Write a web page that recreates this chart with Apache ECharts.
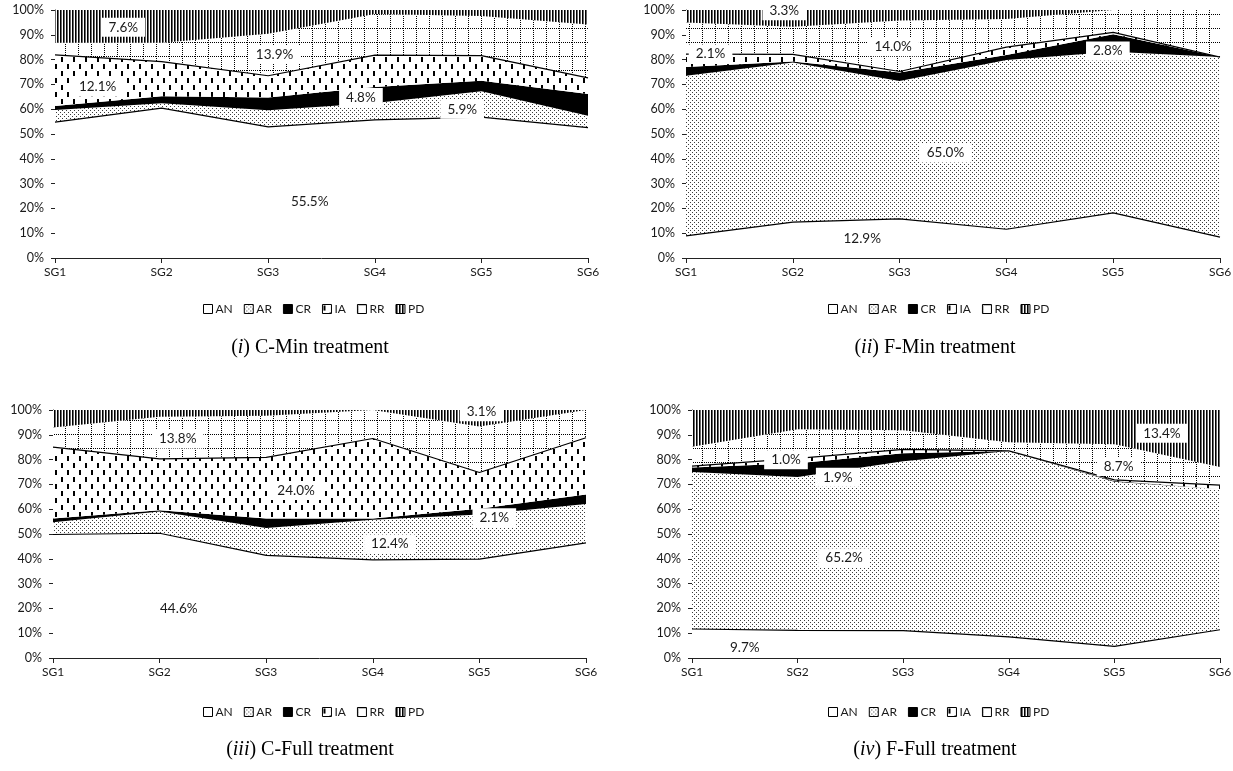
<!DOCTYPE html>
<html>
<head>
<meta charset="utf-8">
<script src="https://cdn.jsdelivr.net/npm/echarts@6/dist/echarts.min.js"></script>
<style>
  html, body { margin: 0; padding: 0; background: #ffffff; }
  #chart { width: 1233px; height: 771px; }
</style>
</head>
<body>
<div id="chart"></div>
<script>
// Sampling groups and fraction names
const groups = ['SG1', 'SG2', 'SG3', 'SG4', 'SG5', 'SG6'];
const fractionNames = ['AN', 'AR', 'CR', 'IA', 'RR', 'PD'];

// (i) C-Min treatment, % of total per group
const cMinAN = [54.8, 60.4, 52.9, 55.7, 56.8, 52.6];
const cMinAR = [4.9, 2.0, 6.7, 6.8, 10.4, 4.8];
const cMinCR = [1.6, 2.8, 5.1, 6.5, 4.3, 8.7];
const cMinIA = [20.6, 14.0, 8.8, 12.8, 10.1, 6.5];
const cMinRR = [4.9, 7.6, 16.9, 16.6, 16.0, 21.6];
const cMinPD = [13.2, 13.2, 9.6, 1.6, 2.4, 5.8];

// (ii) F-Min treatment
const fMinAN = [8.9, 14.5, 15.8, 11.6, 18.2, 8.4];
const fMinAR = [64.6, 64.3, 55.6, 68.2, 65.0, 72.2];
const fMinCR = [3.5, 0.4, 3.4, 2.1, 7.0, 0.4];
const fMinIA = [5.2, 2.9, 0.4, 3.1, 0.8, 0.0];
const fMinRR = [12.8, 11.1, 20.6, 11.4, 9.0, 19.0];
const fMinPD = [5.0, 6.8, 4.2, 3.6, 0.0, 0.0];

// (iii) C-Full treatment
const cFullAN = [49.8, 50.3, 41.4, 39.6, 39.9, 46.4];
const cFullAR = [4.9, 8.8, 11.0, 16.1, 18.0, 15.7];
const cFullCR = [1.6, 0.5, 3.9, 0.5, 2.3, 3.8];
const cFullIA = [28.7, 20.7, 24.6, 32.3, 14.6, 22.9];
const cFullRR = [7.9, 17.0, 16.8, 11.5, 18.5, 11.2];
const cFullPD = [7.1, 2.7, 2.3, 0.0, 6.7, 0.0];

// (iv) F-Full treatment
const fFullAN = [11.7, 11.1, 11.0, 8.5, 4.7, 11.4];
const fFullAR = [63.3, 61.9, 68.3, 75.0, 66.4, 56.4];
const fFullCR = [1.8, 5.5, 3.3, 0.0, 0.3, 0.3];
const fFullIA = [0.6, 2.0, 1.5, 0.0, 0.4, 1.6];
const fFullRR = [7.8, 11.7, 7.7, 3.5, 14.4, 7.3];
const fFullPD = [14.8, 7.8, 8.2, 13.0, 13.8, 23.0];

// Panel captions: [numeral, text]
const captions = [
  ['i', 'C-Min treatment'],
  ['ii', 'F-Min treatment'],
  ['iii', 'C-Full treatment'],
  ['iv', 'F-Full treatment']
];

const panelData = [
  { AN: cMinAN, AR: cMinAR, CR: cMinCR, IA: cMinIA, RR: cMinRR, PD: cMinPD },
  { AN: fMinAN, AR: fMinAR, CR: fMinCR, IA: fMinIA, RR: fMinRR, PD: fMinPD },
  { AN: cFullAN, AR: cFullAR, CR: cFullCR, IA: cFullIA, RR: cFullRR, PD: cFullPD },
  { AN: fFullAN, AR: fFullAR, CR: fFullCR, IA: fFullIA, RR: fFullRR, PD: fFullPD }
];

// Layout of each panel (plot rectangle, legend, caption) and where the
// mean-share callouts sit, in (group index, percent) units.
const panelLayout = [
  { grid: { left: 55, top: 10, width: 533, height: 248 }, legendLeft: 203, legendTop: 303, capX: 310, capY: 348,
    callouts: { PD: [0.64, 93.0], RR: [2.06, 82.1], IA: [0.40, 68.9], CR: [2.87, 64.7], AR: [3.82, 60.0], AN: [2.39, 22.6] } },
  { grid: { left: 686, top: 10, width: 534, height: 248 }, legendLeft: 828, legendTop: 303, capX: 935, capY: 348,
    callouts: { PD: [0.92, 99.7], IA: [0.23, 82.3], RR: [1.94, 85.2], CR: [3.95, 83.5], AR: [2.43, 42.3], AN: [1.65, 7.7] } },
  { grid: { left: 53, top: 410, width: 533, height: 248 }, legendLeft: 203, legendTop: 706, capX: 310, capY: 750,
    callouts: { PD: [4.02, 99.3], RR: [1.17, 88.3], IA: [2.28, 67.5], CR: [4.14, 56.6], AR: [3.16, 46.0], AN: [1.18, 19.9] } },
  { grid: { left: 692, top: 410, width: 528, height: 248 }, legendLeft: 828, legendTop: 706, capX: 935, capY: 750,
    callouts: { IA: [0.89, 79.9], CR: [1.38, 72.9], RR: [4.04, 77.2], PD: [4.45, 90.6], AR: [1.44, 40.3], AN: [0.50, 4.3] } }
];

const FONT = 'Lato, "Noto Sans", sans-serif';
const SERIF = '"Liberation Serif", "DejaVu Serif", serif';

// Monochrome fill patterns for the fractions
function tile(w, h, paint) {
  const c = document.createElement('canvas');
  c.width = w; c.height = h;
  const g = c.getContext('2d');
  g.fillStyle = '#ffffff';
  g.fillRect(0, 0, w, h);
  g.fillStyle = '#000000';
  paint(g, w, h);
  return { image: c, repeat: 'repeat' };
}
const fills = {
  AN: '#ffffff',
  AR: tile(4, 4, g => { g.fillStyle = '#3c3c3c'; g.fillRect(0, 0, 1, 1); g.fillRect(2, 2, 1, 1); }),
  CR: '#000000',
  IA: tile(12, 14, g => { g.fillRect(1, 1, 2, 5); g.fillRect(7, 8, 2, 5); }),
  RR: tile(13, 14, (g, w, h) => {
    g.fillStyle = '#000000';
    for (let x = 0; x < w; x += 2) g.fillRect(x, 0, 1, 1);
    for (let y = 0; y < h; y += 2) g.fillRect(0, y, 1, 1);
  }),
  PD: tile(3, 1, g => { g.fillRect(0, 0, 1, 1); g.fillStyle = '#6a6a6a'; g.fillRect(1, 0, 1, 1); })
};
const outlined = { AN: true, IA: true };

function mean(arr) { return arr.reduce((s, v) => s + v, 0) / arr.length; }

const option = {
  backgroundColor: '#ffffff',
  animation: false,
  grid: [], xAxis: [], yAxis: [], series: [], legend: [], graphic: []
};

panelLayout.forEach((lay, p) => {
  const data = panelData[p];
  option.grid.push(Object.assign({ containLabel: false, outerBoundsMode: 'none' }, lay.grid));

  // category axis for the areas
  option.xAxis.push({
    type: 'category', gridIndex: p, data: groups, boundaryGap: false,
    axisLine: { lineStyle: { color: '#222', width: 1 } },
    axisTick: { show: true, alignWithLabel: true, length: 5, lineStyle: { color: '#222' } },
    axisLabel: { color: '#1a1a1a', fontFamily: FONT, fontSize: 12, margin: 8 },
    splitLine: { show: false }
  });
  // hidden linear axis spanning the same width, used to place callouts
  option.xAxis.push({ type: 'value', gridIndex: p, min: 0, max: groups.length - 1, show: false });

  option.yAxis.push({
    type: 'value', gridIndex: p, min: 0, max: 100, interval: 10,
    axisLine: { show: true, lineStyle: { color: '#222', width: 1 } },
    axisTick: { show: true, length: 4, lineStyle: { color: '#222' } },
    axisLabel: { color: '#1a1a1a', fontFamily: FONT, fontSize: 12.5, margin: 11, formatter: '{value}%' },
    splitLine: { show: false }
  });

  fractionNames.forEach(name => {
    option.series.push({
      name, type: 'line', xAxisIndex: 2 * p, yAxisIndex: p, stack: 'share' + p,
      data: data[name], symbol: 'none', smooth: false,
      z: outlined[name] ? 4 : 2,
      lineStyle: outlined[name] ? { color: '#000', width: 1.2 } : { width: 0 },
      itemStyle: { color: name === 'CR' ? '#000' : '#ffffff' },
      areaStyle: { color: fills[name], opacity: 1 },
      emphasis: { disabled: true },
      silent: true
    });
  });

  // mean share callouts
  const calloutData = Object.keys(lay.callouts).map(name => ({
    value: lay.callouts[name],
    label: { formatter: (Math.round(mean(data[name]) * 10) / 10).toFixed(1) + '%' }
  }));
  option.series.push({
    type: 'scatter', xAxisIndex: 2 * p + 1, yAxisIndex: p, symbolSize: 0, z: 10, silent: true,
    itemStyle: { opacity: 1 },
    emphasis: { disabled: true },
    data: calloutData,
    label: {
      show: true, position: 'inside', color: '#1a1a1a', fontFamily: FONT, fontSize: 13.5,
      backgroundColor: '#ffffff', padding: [3, 7, 2, 7], opacity: 1
    }
  });

  option.legend.push({
    left: lay.legendLeft, top: lay.legendTop, orient: 'horizontal', padding: 0,
    icon: 'rect', itemWidth: 9, itemHeight: 9, itemGap: 11,
    textStyle: { color: '#1a1a1a', fontFamily: FONT, fontSize: 12, padding: [0, 0, 0, -2] },
    data: fractionNames.map(name => ({
      name, icon: 'rect',
      itemStyle: { color: fills[name], borderColor: '#000', borderWidth: 1 }
    }))
  });

  option.graphic.push({
    type: 'text', x: lay.capX, y: lay.capY, silent: true,
    style: {
      text: '({it|' + captions[p][0] + '}) ' + captions[p][1],
      align: 'center', verticalAlign: 'middle',
      fontFamily: SERIF, fontSize: 20, fill: '#000',
      rich: { it: { fontFamily: SERIF, fontSize: 20, fontStyle: 'italic', fill: '#000' } }
    }
  });
});

const chart = echarts.init(document.getElementById('chart'), null, { renderer: 'canvas' });
chart.setOption(option);
</script>
</body>
</html>
